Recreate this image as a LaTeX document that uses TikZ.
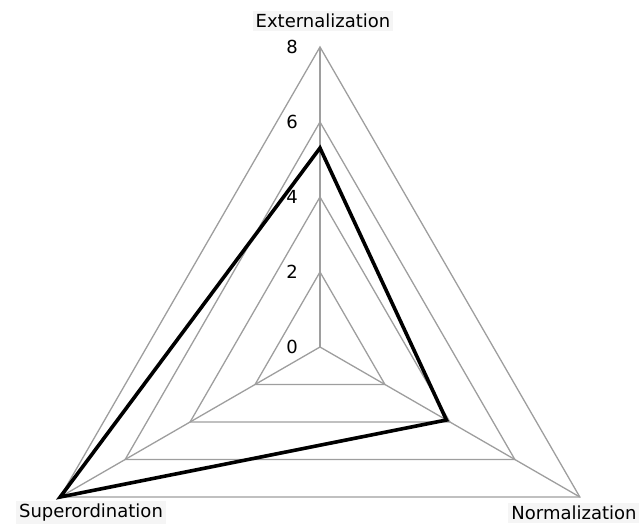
\documentclass[tikz,border=0pt]{standalone}
\usepackage{fontspec}
\setmainfont{DejaVu Sans}
\begin{document}
\begin{tikzpicture}[x=1pt,y=1pt,
  grid/.style={draw=black!38,line width=1.3pt,line join=miter},
  series/.style={draw=black,line width=3.6pt,line join=miter},
  axislabel/.style={fill=black!4,inner sep=3pt,font=\fontsize{18}{20}\selectfont,text=black},
  ticklabel/.style={inner sep=1pt,font=\fontsize{18}{20}\selectfont,text=black}]
\useasboundingbox (-320,-177) rectangle (319,347);
\coordinate (C) at (0,0);
\foreach \r/\v in {75/2,150/4,225/6,300/8}{
  \draw[grid] (90:\r) -- (210:\r) -- (330:\r) -- cycle;
}
\coordinate (E0) at (90:300);
\coordinate (S0) at (210:300);
\coordinate (N0) at (330:300);
\draw[grid] (C) -- (E0);
\draw[grid] (C) -- (S0);
\draw[grid] (C) -- (N0);
\coordinate (Ed) at (90:199);
\coordinate (Nd) at (330:146);
\coordinate (Sd) at (210:300);
\draw[series] (Ed) -- (Nd) -- (Sd) -- cycle;
\foreach \r/\v in {0/0,75/2,150/4,225/6,300/8}{
  \node[ticklabel] (t\v) at (-28,\r) {\v};
}
\node[axislabel] (le) at (3,326) {Externalization};
\node[axislabel] (ls) at (-229,-166) {Superordination};
\node[axislabel] (ln) at (254,-166) {Normalization};
\end{tikzpicture}
\end{document}
